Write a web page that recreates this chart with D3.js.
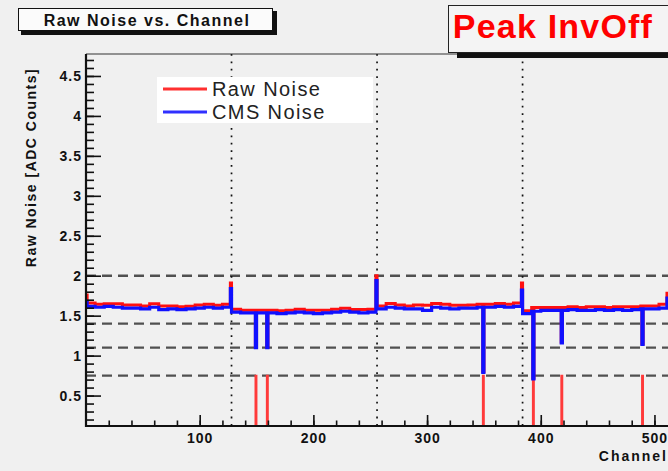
<!DOCTYPE html>
<html>
<head>
<meta charset="utf-8">
<script src="https://cdn.jsdelivr.net/npm/d3@7"></script>
<style>
  html, body { margin: 0; padding: 0; background: #f0f0f0; }
  svg { display: block; }
</style>
</head>
<body>
<svg id="chart" width="668" height="471"></svg>
<script>
// ---------------- data ----------------
const nChannels = 512;
const blockSize = 8; // each block value covers 8 channels
const rawBlocks = [
  1.66, 1.643, 1.65, 1.65, 1.635, 1.635, 1.622, 1.65, 1.622, 1.622, 1.61, 1.618, 1.635, 1.643, 1.631, 1.643,
  1.581, 1.568, 1.568, 1.568, 1.568, 1.56, 1.568, 1.581, 1.568, 1.568, 1.568, 1.581, 1.593, 1.576, 1.576, 1.581,
  1.622, 1.651, 1.635, 1.622, 1.635, 1.631, 1.651, 1.643, 1.631, 1.631, 1.635, 1.643, 1.643, 1.651, 1.643, 1.66,
  1.56, 1.601, 1.601, 1.601, 1.601, 1.61, 1.601, 1.61, 1.61, 1.601, 1.61, 1.61, 1.61, 1.622, 1.622, 1.643
];
const cmsBlocks = [
  1.615, 1.605, 1.615, 1.605, 1.595, 1.595, 1.585, 1.605, 1.575, 1.585, 1.575, 1.585, 1.595, 1.605, 1.595, 1.605,
  1.545, 1.535, 1.535, 1.535, 1.535, 1.525, 1.535, 1.545, 1.535, 1.525, 1.535, 1.545, 1.555, 1.545, 1.535, 1.545,
  1.585, 1.605, 1.595, 1.585, 1.585, 1.565, 1.605, 1.595, 1.585, 1.595, 1.595, 1.605, 1.605, 1.615, 1.605, 1.615,
  1.525, 1.555, 1.565, 1.565, 1.565, 1.575, 1.565, 1.565, 1.575, 1.565, 1.575, 1.565, 1.575, 1.585, 1.585, 1.595
];
// chip-edge channels with higher noise
const edgeChannels = [0, 127, 255, 383, 511];
const edgeRaw      = [1.76, 1.91, 2.0, 1.91, 1.78];
const edgeCms      = [1.68, 1.84, 1.94, 1.82, 1.72];
// flagged (bad) channels
const badChannels = [149, 159, 349, 393, 418, 489];
const badRaw      = [1.11, 1.11, 0.80, 0.72, 1.17, 1.15];
const badCms      = [1.10, 1.10, 0.79, 0.71, 1.16, 1.14];
const badFlagValue = 0.75;
// reference lines
const cutLevels = [2.0, 1.4, 1.1, 0.75];
const chipBoundaries = [128, 256, 384];
// axes
const xMajorTicks = [100, 200, 300, 400, 500];
const xMinorTicks = d3.range(20, 512, 20);
const yMajorTicks = [0.5, 1, 1.5, 2, 2.5, 3, 3.5, 4, 4.5];
const yMinorTicks = d3.range(2, 48).map(d => d / 10);
const legendLabels = ["Raw Noise", "CMS Noise"];
const titleText = "Raw Noise vs. Channel";
const tagText = "Peak InvOff";
const xTitle = "Channel";
const yTitle = "Raw Noise [ADC Counts]";

// ---------------- build series ----------------
function buildSeries(blocks, edgeVals, badVals) {
  const s = d3.range(nChannels).map(ch => blocks[Math.floor(ch / blockSize)]);
  edgeChannels.forEach((c, i) => { s[c] = edgeVals[i]; });
  badChannels.forEach((c, i) => { s[c] = badVals[i]; });
  return s;
}
const rawNoise = buildSeries(rawBlocks, edgeRaw, badRaw);
const cmsNoise = buildSeries(cmsBlocks, edgeCms, badCms);
const flags = d3.range(nChannels).map(ch => badChannels.includes(ch) ? badFlagValue : 0);

// ---------------- drawing ----------------
const svg = d3.select("#chart");
const W = 668, H = 471;
svg.append("rect").attr("width", W).attr("height", H).attr("fill", "#f0f0f0");

const x = d3.scaleLinear().domain([0, 512]).range([86, 668.1]);
const y = d3.scaleLinear().domain([0.119, 4.775]).range([426, 54]);
const [x0, x1] = x.range();
const [yb, yt] = y.range();

svg.append("clipPath").attr("id", "plotclip")
  .append("rect").attr("x", x0).attr("y", yt).attr("width", x1 - x0).attr("height", yb - yt);

const plot = svg.append("g").attr("clip-path", "url(#plotclip)");

// dashed cut levels
plot.selectAll("line.cut").data(cutLevels).join("line")
  .attr("class", "cut")
  .attr("x1", x0).attr("x2", x1)
  .attr("y1", d => y(d)).attr("y2", d => y(d))
  .attr("stroke", "#505050").attr("stroke-width", 2.4)
  .attr("stroke-dasharray", "10,6");

// dotted chip boundaries
plot.selectAll("line.chip").data(chipBoundaries).join("line")
  .attr("class", "chip")
  .attr("x1", d => x(d)).attr("x2", d => x(d))
  .attr("y1", yt).attr("y2", yb)
  .attr("stroke", "#111").attr("stroke-width", 1.7)
  .attr("stroke-dasharray", "1.8,5.6");

function histLine(values) {
  const pts = values.map((v, i) => [i, v]);
  pts.push([nChannels, values[nChannels - 1]]);
  return d3.line().x(d => x(d[0])).y(d => y(d[1])).curve(d3.curveStepAfter)(pts);
}

plot.append("path").attr("d", histLine(rawNoise))
  .attr("fill", "none").attr("stroke", "#ff1010").attr("stroke-width", 3);
plot.append("path").attr("d", histLine(flags))
  .attr("fill", "none").attr("stroke", "#ff3a3a").attr("stroke-width", 1.8);
plot.append("path").attr("d", histLine(cmsNoise))
  .attr("fill", "none").attr("stroke", "#1010ff").attr("stroke-width", 3.2);

// frame top line
svg.append("line").attr("x1", x0).attr("x2", W).attr("y1", yt).attr("y2", yt)
  .attr("stroke", "#333").attr("stroke-width", 1);

// axes
const fontFam = "'Liberation Sans', Arial, Helvetica, sans-serif";
const yAxisMajor = d3.axisLeft(y).tickValues(yMajorTicks).tickSize(-15).tickSizeOuter(0)
  .tickPadding(5).tickFormat(d3.format("~g"));
const yAxisMinor = d3.axisLeft(y).tickValues(yMinorTicks).tickSize(-8).tickSizeOuter(0).tickFormat("");
const xAxisMajor = d3.axisBottom(x).tickValues(xMajorTicks).tickSize(-11).tickSizeOuter(0)
  .tickPadding(7).tickFormat(d3.format("d"));
const xAxisMinor = d3.axisBottom(x).tickValues(xMinorTicks).tickSize(-5.5).tickSizeOuter(0).tickFormat("");

function styleAxis(g) {
  g.select(".domain").remove();
  g.selectAll(".tick line").attr("stroke", "#111").attr("stroke-width", 1.6);
  g.selectAll(".tick text").attr("fill", "#111")
    .style("font-family", fontFam).style("font-size", "14px").style("font-weight", "bold")
    .style("letter-spacing", "1px");
}
svg.append("g").attr("transform", `translate(${x0},0)`).call(yAxisMinor).call(styleAxis);
svg.append("g").attr("transform", `translate(${x0},0)`).call(yAxisMajor).call(styleAxis)
  .selectAll(".tick text").attr("x", -4);
svg.append("g").attr("transform", `translate(0,${yb})`).call(xAxisMinor).call(styleAxis);
svg.append("g").attr("transform", `translate(0,${yb})`).call(xAxisMajor).call(styleAxis);

svg.append("line").attr("x1", x0).attr("x2", x0).attr("y1", yt).attr("y2", yb + 1)
  .attr("stroke", "#111").attr("stroke-width", 2.2);
svg.append("line").attr("x1", x0 - 1).attr("x2", W).attr("y1", yb).attr("y2", yb)
  .attr("stroke", "#111").attr("stroke-width", 2.2);

// axis titles
svg.append("text").text(xTitle)
  .attr("x", 668).attr("y", 461).attr("text-anchor", "end")
  .attr("fill", "#111").style("font-family", fontFam).style("font-size", "14px")
  .style("font-weight", "bold").style("letter-spacing", "2px");
svg.append("text").text(yTitle)
  .attr("transform", "translate(36,167.5) rotate(-90)").attr("text-anchor", "middle")
  .attr("fill", "#111").style("font-family", fontFam).style("font-size", "14px")
  .style("font-weight", "bold").style("letter-spacing", "1.5px");

// legend
const legend = svg.append("g");
legend.append("rect").attr("x", 157).attr("y", 77).attr("width", 216).attr("height", 46).attr("fill", "#ffffff");
const legColors = ["#ff3030", "#3030ff"];
const legY = [89, 112];
legendLabels.forEach((lab, i) => {
  legend.append("line").attr("x1", 163).attr("x2", 207).attr("y1", legY[i]).attr("y2", legY[i])
    .attr("stroke", legColors[i]).attr("stroke-width", 3);
  legend.append("text").text(lab).attr("x", 212).attr("y", legY[i] + 7)
    .attr("fill", "#222").style("font-family", fontFam).style("font-size", "20px")
    .style("letter-spacing", "1.4px");
});

// title box
svg.append("rect").attr("x", 21).attr("y", 11).attr("width", 256).attr("height", 24).attr("fill", "#111");
svg.append("rect").attr("x", 18.5).attr("y", 8.5).attr("width", 254).attr("height", 22)
  .attr("fill", "#fbfbfb").attr("stroke", "#111").attr("stroke-width", 1);
svg.append("text").text(titleText).attr("x", 147).attr("y", 25.5).attr("text-anchor", "middle")
  .attr("fill", "#111").style("font-family", fontFam).style("font-size", "16px")
  .style("font-weight", "bold").style("letter-spacing", "1.5px");

// tag box
svg.append("rect").attr("x", 457).attr("y", 52).attr("width", 220).attr("height", 6).attr("fill", "#111");
svg.append("rect").attr("x", 448.5).attr("y", 5.5).attr("width", 230).attr("height", 47)
  .attr("fill", "#f4f4f4").attr("stroke", "#222").attr("stroke-width", 1);
svg.append("text").text(tagText).attr("x", 553).attr("y", 38).attr("text-anchor", "middle")
  .attr("fill", "#ff0000").style("font-family", fontFam).style("font-size", "34px")
  .style("font-weight", "bold").style("letter-spacing", "1.2px");
</script>
</body>
</html>
